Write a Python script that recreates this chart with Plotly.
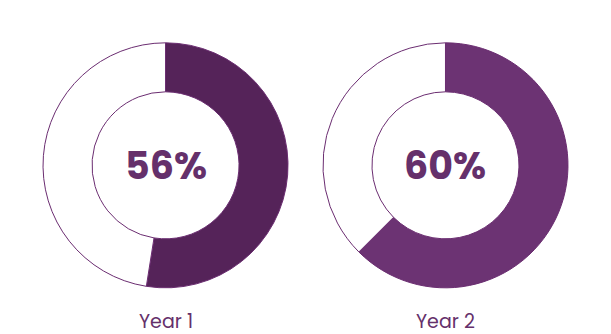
import plotly.graph_objects as go

# Data
years = ["Year 1", "Year 2"]
center_labels = ["56%", "60%"]
filled_share = [52.5, 62.5]          # share of the ring drawn in purple
slice_names = ["Achieved", "Remaining"]

fill_colors = ["#552359", "#6C3373"]
outline = "#6B2D71"
text_color = "#65306B"
font_family = "Poppins, Inter, 'Open Sans', sans-serif"

domains_x = [[0.0704, 0.4714], [0.5286, 0.9296]]
domain_y = [0.138, 0.872]

fig = go.Figure()
for i, yr in enumerate(years):
    fig.add_trace(go.Pie(
        labels=slice_names,
        values=[filled_share[i], 100 - filled_share[i]],
        hole=0.6,
        sort=False,
        direction="clockwise",
        rotation=0,
        textinfo="none",
        hoverinfo="skip",
        showlegend=False,
        marker=dict(colors=[fill_colors[i], "#FFFFFF"],
                    line=dict(color=outline, width=1)),
        domain=dict(x=domains_x[i], y=domain_y),
        name=yr,
    ))
    cx = (domains_x[i][0] + domains_x[i][1]) / 2
    fig.add_annotation(x=cx, y=(domain_y[0] + domain_y[1]) / 2, xref="paper", yref="paper",
                       text=f"<b>{center_labels[i]}</b>", showarrow=False,
                       font=dict(family=font_family, size=38, color=text_color),
                       xanchor="center", yanchor="middle")
    fig.add_annotation(x=cx, y=0.0, xref="paper", yref="paper",
                       text=yr, showarrow=False,
                       font=dict(family=font_family, size=19, color=text_color),
                       xanchor="center", yanchor="bottom", yshift=-3)

fig.update_layout(
    width=611, height=334,
    margin=dict(l=0, r=0, t=0, b=0),
    paper_bgcolor="white", plot_bgcolor="white",
)
fig.write_html("out.html")
